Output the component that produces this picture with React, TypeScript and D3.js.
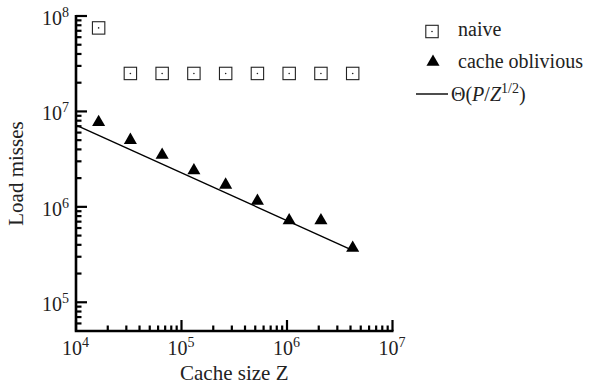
import React from 'react';
import * as d3 from 'd3';

// cache sizes Z (2^14 .. 2^22)
const cacheSizes = [16384, 32768, 65536, 131072, 262144, 524288, 1048576, 2097152, 4194304];
const naiveMisses = [7.5e7, 2.5e7, 2.5e7, 2.5e7, 2.5e7, 2.5e7, 2.5e7, 2.5e7, 2.5e7];
const obliviousMisses = [7.7e6, 5.0e6, 3.5e6, 2.4e6, 1.7e6, 1.15e6, 7.2e5, 7.2e5, 3.7e5];
// Theta(P / Z^(1/2)) reference line, end points
const boundZ = [1e4, 4194304];
const boundMisses = [7.2e6, 3.5e5];
const xTickExps = [4, 5, 6, 7];
const yTickExps = [5, 6, 7, 8];

const W = 597;
const H = 387;
const FONT = 'Liberation Serif';
const INK = '#222';

const left = 76, right = 392.5, top = 16, bottom = 331;
const x = d3.scaleLog().domain([1e4, 1e7]).range([left, right]);
const y = d3.scaleLog().domain([5e4, 1e8]).range([bottom, top]);

const xMinor: number[] = [];
for (let d = 4; d < 7; d++) for (let k = 2; k <= 9; k++) xMinor.push(k * 10 ** d);
const yMinor: number[] = [];
for (let d = 4; d < 8; d++) for (let k = 2; k <= 9; k++) {
  const v = k * 10 ** d;
  if (v > 5e4) yMinor.push(v);
}

const boundPath = d3.line<number>()
  .x((_, i) => x(boundZ[i]))
  .y(d => y(d))(boundMisses) || '';
const tri = d3.symbol().type(d3.symbolTriangle).size(74)() || '';
const SQ = 12.4;

const Square: React.FC<{ cx: number; cy: number }> = ({ cx, cy }) => (
  <g>
    <rect x={cx - SQ / 2} y={cy - SQ / 2} width={SQ} height={SQ} fill="#fff" stroke={INK} strokeWidth={1.1} />
    <circle cx={cx} cy={cy} r={0.8} fill={INK} />
  </g>
);

const App: React.FC = () => {
  return (
    <div style={{ position: 'absolute', left: 0, top: 0, width: W, height: H, background: '#fff' }}>
      <svg width={W} height={H} style={{ display: 'block' }}>
        <g stroke="#000" strokeWidth={2.2}>
          {xMinor.map(v => <line key={'xm' + v} x1={x(v)} x2={x(v)} y1={bottom} y2={bottom - 5.5} />)}
          {xTickExps.map(e => <line key={'xM' + e} x1={x(10 ** e)} x2={x(10 ** e)} y1={bottom} y2={bottom - 11} />)}
          {yMinor.map(v => <line key={'ym' + v} x1={left} x2={left + 5.5} y1={y(v)} y2={y(v)} />)}
          {yTickExps.map(e => <line key={'yM' + e} x1={left} x2={left + 11} y1={y(10 ** e)} y2={y(10 ** e)} />)}
          <path d={`M${left},${top - 1}V${bottom}H${right + 1}`} fill="none" strokeWidth={2.6} />
        </g>

        {xTickExps.map(e => (
          <g key={'xl' + e}>
            <text x={x(10 ** e) - 4} y={355} textAnchor="middle" fontFamily={FONT} fontSize={20} fill={INK}>10</text>
            <text x={x(10 ** e) + 6} y={347} fontFamily={FONT} fontSize={14} fill={INK}>{e}</text>
          </g>
        ))}
        {yTickExps.map(e => (
          <g key={'yl' + e}>
            <text x={62} y={y(10 ** e) + 9} textAnchor="end" fontFamily={FONT} fontSize={20} fill={INK}>10</text>
            <text x={62} y={y(10 ** e) + 1} fontFamily={FONT} fontSize={14} fill={INK}>{e}</text>
          </g>
        ))}

        <text x={(left + right) / 2} y={380} textAnchor="middle" fontFamily={FONT} fontSize={21} fill={INK}>
          Cache size Z
        </text>
        <text
          transform={`translate(23,${(top + bottom) / 2}) rotate(-90)`}
          textAnchor="middle"
          fontFamily={FONT}
          fontSize={21}
          fill={INK}
        >
          Load misses
        </text>

        <path d={boundPath} fill="none" stroke="#000" strokeWidth={1.4} />

        {naiveMisses.map((v, i) => <Square key={'n' + i} cx={x(cacheSizes[i])} cy={y(v)} />)}
        {obliviousMisses.map((v, i) => (
          <path key={'o' + i} d={tri} transform={`translate(${x(cacheSizes[i])},${y(v)})`} fill="#000" />
        ))}

        {/* legend */}
        <Square cx={432} cy={31.5} />
        <text x={458} y={36} fontFamily={FONT} fontSize={20} fill={INK}>naive</text>
        <path d={tri} transform="translate(433,62)" fill="#000" />
        <text x={458} y={68} fontFamily={FONT} fontSize={20} fill={INK}>cache oblivious</text>
        <line x1={416} x2={448} y1={94} y2={94} stroke="#000" strokeWidth={1.4} />
        <text x={451} y={101} fontFamily={FONT} fontSize={20} fill={INK}>
          Θ(<tspan fontStyle="italic">P</tspan>/<tspan fontStyle="italic">Z</tspan>
          <tspan dy={-8} fontSize={14}>1/2</tspan>
          <tspan dy={8}>)</tspan>
        </text>
      </svg>
    </div>
  );
};

export default App;
